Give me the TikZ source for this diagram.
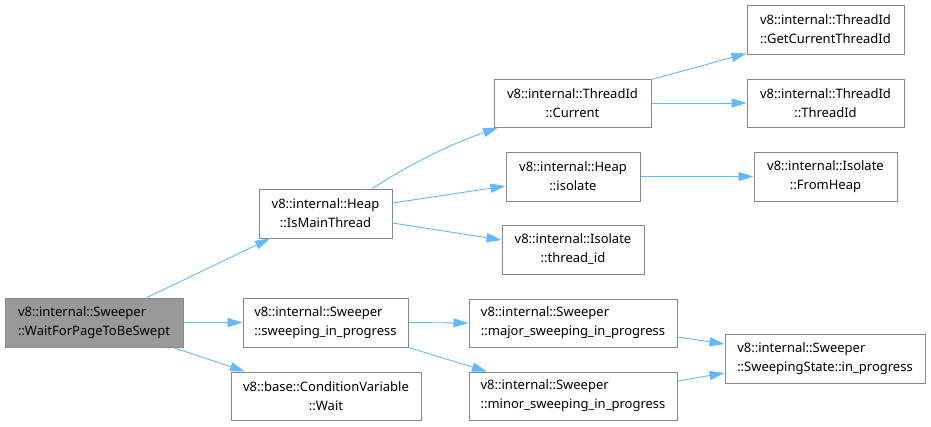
\documentclass[tikz,border=0pt]{standalone}
\usepackage{fontspec}
\setmainfont{Noto Sans}
\usetikzlibrary{arrows.meta}
\definecolor{boxgray}{HTML}{888888}
\definecolor{rootgray}{HTML}{999999}
\definecolor{edgeblue}{HTML}{63B8FF}
\begin{document}
\begin{tikzpicture}[x=1pt,y=-1pt,
  box/.style={draw=boxgray, line width=1pt, fill=white, inner sep=0pt,
    font=\fontsize{13}{19}\selectfont, text=black, minimum height=49pt},
  edge/.style={draw=edgeblue, line width=0.9pt, -{Triangle[length=15pt,width=9pt]}}
]
\useasboundingbox (0,0) rectangle (931,426);

\node[box, align=left, fill=rootgray, minimum width=178pt] (root) at (94,322.5) {v8::internal::Sweeper\\::WaitForPageToBeSwept};
\node[box, align=center, minimum width=133pt] (ismain) at (325.5,213.5) {v8::internal::Heap\\::IsMainThread};
\node[box, align=left, minimum width=165pt] (sweep) at (325.5,322.5) {v8::internal::Sweeper\\::sweeping\_in\_progress};
\node[box, align=center, minimum width=190pt, minimum height=48pt] (cv) at (326,396) {v8::base::ConditionVariable\\::Wait};

\node[box, align=center, minimum width=157pt, minimum height=48pt] (current) at (572.5,103) {v8::internal::ThreadId\\::Current};
\node[box, align=center, minimum width=134pt] (heapiso) at (573,176.5) {v8::internal::Heap\\::isolate};
\node[box, align=center, minimum width=142pt] (threadid) at (573,249.5) {v8::internal::Isolate\\::thread\_id};
\node[box, align=left, minimum width=208pt, minimum height=48pt] (major) at (573,323) {v8::internal::Sweeper\\::major\_sweeping\_in\_progress};
\node[box, align=left, minimum width=208pt, minimum height=48pt] (minor) at (573,396) {v8::internal::Sweeper\\::minor\_sweeping\_in\_progress};

\node[box, align=center, minimum width=157pt] (getcur) at (825.5,29.5) {v8::internal::ThreadId\\::GetCurrentThreadId};
\node[box, align=center, minimum width=157pt, minimum height=48pt] (tid) at (825.5,103) {v8::internal::ThreadId\\::ThreadId};
\node[box, align=center, minimum width=143pt] (fromheap) at (825.5,176.5) {v8::internal::Isolate\\::FromHeap};
\node[box, align=left, minimum width=200pt] (sstate) at (825,358.5) {v8::internal::Sweeper\\::SweepingState::in\_progress};

\draw[edge] ([xshift=53pt]root.north) -- ([xshift=-55.5pt]ismain.south);
\draw[edge] (root.east) -- (sweep.west);
\draw[edge] ([xshift=79pt]root.south) -- ([xshift=-81pt]cv.north);

\draw[edge] ([xshift=46.5pt]ismain.north) to[bend left=6] ([xshift=-74.5pt]current.south);
\draw[edge] ([yshift=10.5pt]ismain.east) -- ([yshift=-9.5pt]heapiso.west);
\draw[edge] ([yshift=-9.5pt]ismain.east) -- ([yshift=9.5pt]threadid.west);

\draw[edge] ([yshift=-1pt]current.north east) -- ([yshift=1pt]getcur.south west);
\draw[edge] (current.east) -- (tid.west);
\draw[edge] (heapiso.east) -- (fromheap.west);

\draw[edge] (sweep.east) -- (major.west);
\draw[edge] (sweep.south east) -- ([xshift=-86pt]minor.north);

\draw[edge] ([yshift=-14pt]major.east) -- ([yshift=14.5pt]sstate.west);
\draw[edge] ([yshift=15pt]minor.east) -- ([yshift=-14.5pt]sstate.west);
\end{tikzpicture}
\end{document}
